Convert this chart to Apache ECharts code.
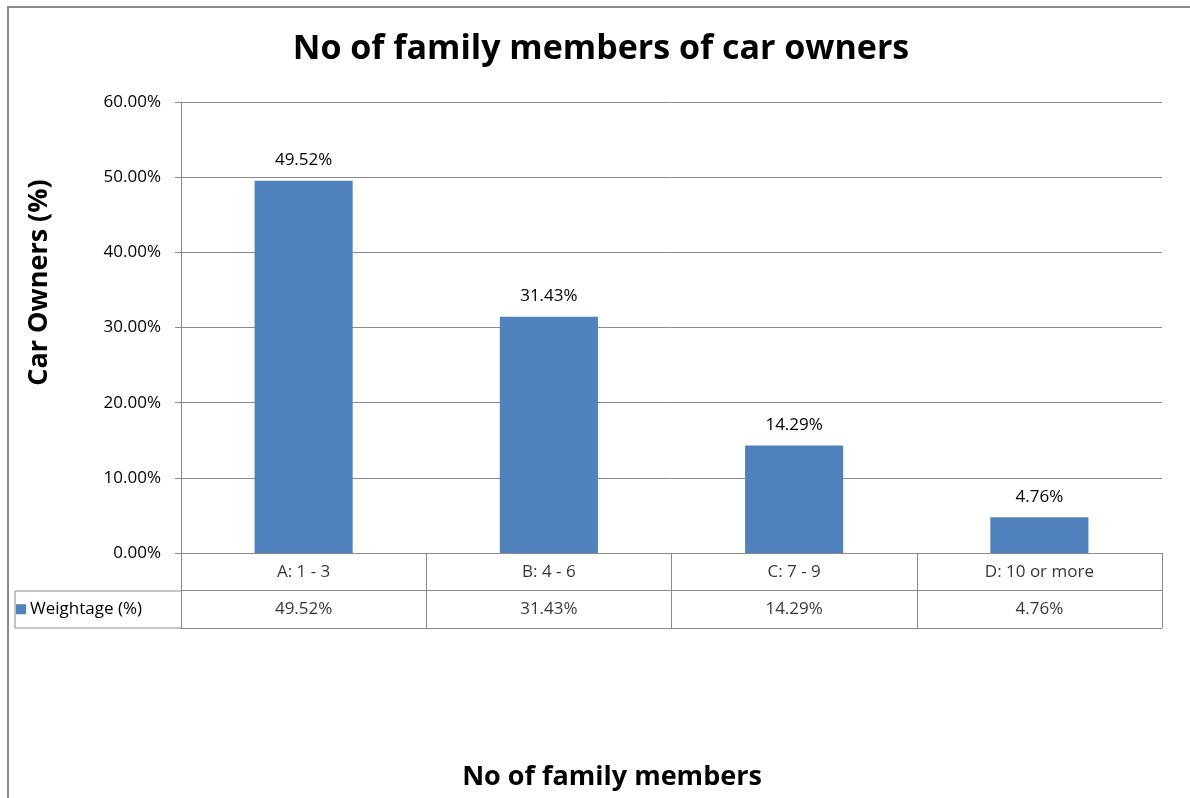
<!DOCTYPE html>
<html>
<head>
<meta charset="utf-8">
<style>
  html, body { margin: 0; padding: 0; background: #fff; }
  #chart { width: 1190px; height: 798px; }
</style>
<script src="https://cdn.jsdelivr.net/npm/echarts@6/dist/echarts.min.js"></script>
</head>
<body>
<div id="chart"></div>
<script>
// Share of car owners by number of family members
const categories = ['A: 1 - 3', 'B: 4 - 6', 'C: 7 - 9', 'D: 10 or more'];
const weightage = [49.52, 31.43, 14.29, 4.76];
const seriesName = 'Weightage (%)';
const tableRows = [seriesName, 'category'];

const FONT = 'Open Sans';
const LINE = '#8a8a8a';
const BAR = '#4f81bd';

const pct = v => v.toFixed(2) + '%';

// text cells of the data table under the plot
const categoryCells = categories.map(c => ({ value: [c, 'category'], label: { formatter: c } }));
const valueCells = categories.map((c, i) => ({ value: [c, seriesName], label: { formatter: pct(weightage[i]) } }));

const chart = echarts.init(document.getElementById('chart'));
chart.setOption({
  animation: false,
  backgroundColor: '#fff',
  textStyle: { fontFamily: FONT },
  title: [
    {
      text: 'No of family members of car owners',
      left: 596, top: 27, textAlign: 'center',
      textStyle: { fontFamily: FONT, fontSize: 34, fontWeight: 'bold', color: '#000' }
    },
    {
      text: 'No of family members',
      left: 607, top: 759, textAlign: 'center',
      textStyle: { fontFamily: FONT, fontSize: 27, fontWeight: 'bold', color: '#000' }
    }
  ],
  grid: [
    { left: 181, right: 28, top: 102, height: 451 },
    { left: 181, right: 28, top: 553, height: 75 }
  ],
  xAxis: [
    {
      gridIndex: 0, type: 'category', data: categories,
      axisLine: { show: true, lineStyle: { color: LINE, width: 1 } },
      axisTick: { show: false }, axisLabel: { show: false }, splitLine: { show: false }
    },
    {
      gridIndex: 1, type: 'category', data: categories, boundaryGap: true,
      axisLine: { show: true, lineStyle: { color: LINE, width: 1 } },
      axisTick: { show: false }, axisLabel: { show: false },
      splitLine: { show: true, interval: 0, lineStyle: { color: LINE, width: 1 } }
    }
  ],
  yAxis: [
    {
      gridIndex: 0, type: 'value', min: 0, max: 0.6, interval: 0.1,
      name: 'Car Owners (%)', nameLocation: 'middle', nameGap: 128, nameRotate: 90,
      nameTextStyle: {
        fontFamily: FONT, fontSize: 27, fontWeight: 'bold', color: '#000',
        padding: [0, 0, 0, 90]
      },
      axisLine: { show: true, lineStyle: { color: LINE, width: 1 } },
      axisTick: { show: true, length: 6, lineStyle: { color: LINE } },
      axisLabel: { formatter: v => (v * 100).toFixed(2) + '%', fontSize: 17, color: '#000', margin: 20 },
      splitLine: { show: true, lineStyle: { color: LINE, width: 1 } }
    },
    {
      gridIndex: 1, type: 'category', data: tableRows, boundaryGap: true,
      axisLine: { show: false }, axisTick: { show: false },
      axisLabel: {
        align: 'left', margin: 165, interval: 0,
        formatter: v => v === seriesName ? '{sq|}{t|' + v + '}' : '',
        rich: {
          sq: { width: 10, height: 10, backgroundColor: BAR },
          t: { fontSize: 17, color: '#000', padding: [0, 0, 0, 4] }
        }
      },
      splitLine: { show: true, interval: 0, lineStyle: { color: LINE, width: 1 } }
    }
  ],
  series: [
    {
      name: seriesName, type: 'bar', xAxisIndex: 0, yAxisIndex: 0,
      data: weightage.map(v => v / 100),
      barWidth: '40%',
      itemStyle: { color: BAR },
      label: {
        show: true, position: 'top', distance: 12,
        formatter: p => pct(p.value * 100),
        fontSize: 17, color: '#000'
      }
    },
    {
      type: 'scatter', xAxisIndex: 1, yAxisIndex: 1, symbolSize: 0,
      data: categoryCells.concat(valueCells),
      label: { show: true, position: 'inside', fontSize: 17, color: '#000' },
      silent: true
    }
  ],
  graphic: [
    {
      type: 'rect', silent: true,
      shape: { x: 8, y: 7, width: 1200, height: 820 },
      style: { fill: 'none', stroke: LINE, lineWidth: 2 }
    },
    {
      type: 'polyline', silent: true,
      shape: { points: [[181, 591], [15, 591], [15, 628], [181, 628]] },
      style: { fill: 'none', stroke: LINE, lineWidth: 1 }
    }
  ]
});
</script>
</body>
</html>
